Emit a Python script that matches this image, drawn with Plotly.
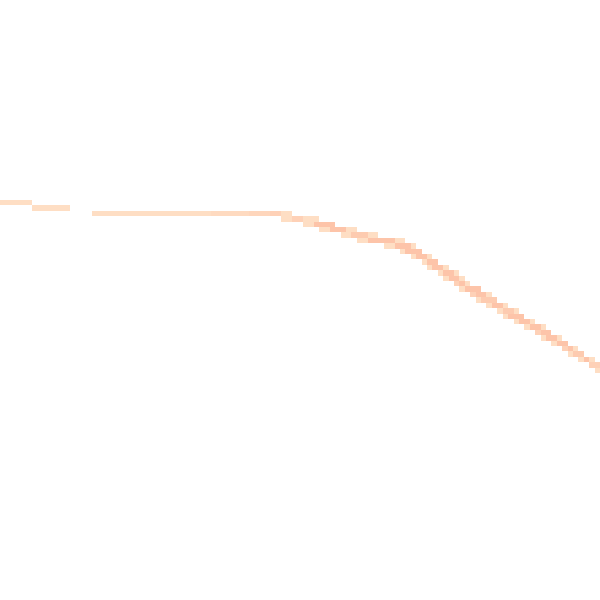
import plotly.graph_objects as go

# Grid size (cells per side)
n_cells = 111

# Runs of filled cells: column start, column end, row, intensity level
run_col_start = [0, 6, 17, 39, 46, 50,
                 52, 52, 54, 56, 56, 58, 59, 61, 64, 63, 65, 68, 66, 68, 73,
                 71, 73, 76, 74, 75, 76, 77, 79, 78, 79, 79, 80, 82, 81, 82, 84,
                 82, 83, 85, 84, 85, 86, 85, 86, 87, 88, 90, 88, 89, 90, 91, 93,
                 92, 93, 95, 93, 94, 95, 96, 98, 97, 98, 100, 99, 100, 100, 101,
                 103, 102, 103, 104, 105, 106, 105, 106, 107, 108, 109, 109, 110]
run_col_end = [5, 12, 38, 45, 49, 51,
               53, 53, 55, 58, 57, 61, 60, 63, 65, 64, 67, 69, 67, 72, 74,
               72, 75, 76, 74, 77, 76, 78, 79, 78, 80, 79, 81, 82, 81, 83, 84,
               82, 84, 85, 84, 85, 86, 85, 88, 87, 89, 90, 88, 91, 90, 92, 93,
               92, 94, 95, 93, 96, 95, 97, 98, 97, 99, 100, 99, 101, 100, 102,
               103, 102, 104, 104, 105, 106, 105, 107, 107, 108, 109, 110, 110]
run_row = [37, 38, 39, 39, 39, 39,
           39, 40, 40, 40, 41, 41, 42, 42, 42, 43, 43, 43, 44, 44, 44,
           45, 45, 45, 46, 46, 47, 47, 47, 48, 48, 49, 49, 49, 50, 50, 50,
           51, 51, 51, 52, 52, 52, 53, 53, 54, 54, 54, 55, 55, 56, 56, 56,
           57, 57, 57, 58, 58, 59, 59, 59, 60, 60, 60, 61, 61, 62, 62,
           62, 63, 63, 64, 64, 64, 65, 65, 66, 66, 66, 67, 68]
run_level = [1, 1, 1, 1.3, 1.6, 2,
             1, 1, 2, 1, 1, 3, 1, 3, 1, 1, 2.5, 1, 1, 3, 1,
             1, 3, 1, 1, 3, 1, 3, 1, 1, 3, 1, 3, 1, 1, 3, 1,
             1, 3, 1, 2, 3, 1, 1, 3, 2, 3, 1, 1, 2.5, 1, 3, 1,
             1, 2.5, 1, 1, 3, 1, 3, 1, 1, 3, 1, 2, 3, 1, 3,
             1, 1, 3, 2, 3, 1, 1, 2.5, 1, 3, 1, 2, 1]

light_colour = "#FEDEC4"
dark_colour = "#FDC4A9"

z = [[None] * n_cells for _ in range(n_cells)]
for c0, c1, r, lv in zip(run_col_start, run_col_end, run_row, run_level):
    for c in range(c0, c1 + 1):
        z[r][c] = lv

fig = go.Figure(
    go.Heatmap(
        z=z,
        zmin=1,
        zmax=3,
        colorscale=[[0, light_colour], [1, dark_colour]],
        showscale=False,
        hoverinfo="skip",
    )
)
fig.update_layout(
    width=600,
    height=600,
    margin=dict(l=0, r=0, t=0, b=0),
    paper_bgcolor="white",
    plot_bgcolor="white",
    xaxis=dict(visible=False, range=[-0.5, n_cells - 0.5], fixedrange=True),
    yaxis=dict(visible=False, range=[n_cells - 0.5, -0.5], fixedrange=True),
)
fig.write_html(
    "out.html",
    config={"displayModeBar": False},
    post_script="document.body.style.margin='0';document.body.style.overflow='hidden';",
)
